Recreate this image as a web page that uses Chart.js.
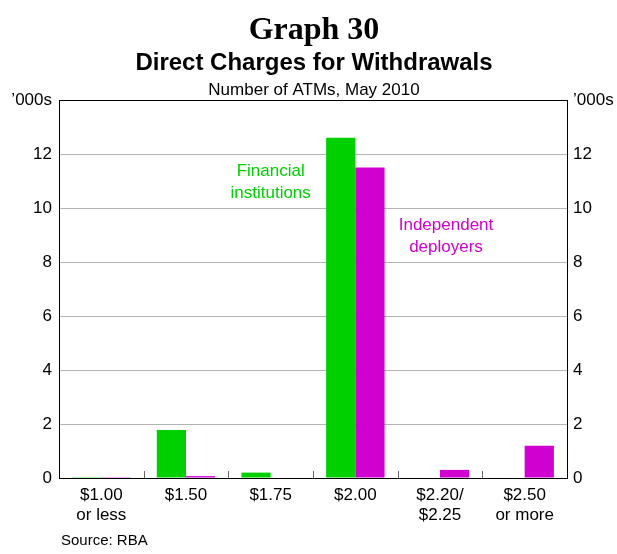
<!DOCTYPE html>
<html>
<head>
<meta charset="utf-8">
<script src="https://cdn.jsdelivr.net/npm/chart.js@4"></script>
<style>
  body { margin: 0; background: #fff; }
  canvas { display: block; }
</style>
</head>
<body>
<canvas id="graph" width="617" height="554"></canvas>
<script>
// Данные графика
const categories = [['$1.00', 'or less'], '$1.50', '$1.75', '$2.00', ['$2.20/', '$2.25'], ['$2.50', 'or more']];
const financialInstitutions = [0.03, 1.78, 0.2, 12.6, 0, 0];
const independentDeployers = [0.03, 0.07, 0, 11.5, 0.3, 1.19];
const yTicks = [0, 2, 4, 6, 8, 10, 12, 14];

const green = '#00d000';
const magenta = '#d000d0';
const font = "'Liberation Sans', Arial, sans-serif";

// Заголовки, подписи серий и засечки на оси X
const decorations = {
    id: 'decorations',
    afterDraw(chart) {
        const c = chart.ctx;
        const x = chart.scales.x;
        const y = chart.scales.y;
        const area = chart.chartArea;
        c.save();
        c.textAlign = 'center';
        c.textBaseline = 'alphabetic';
        c.fillStyle = '#000';
        c.font = "bold 32px 'Liberation Serif', 'Times New Roman', serif";
        c.fillText('Graph 30', 314, 39);
        c.font = 'bold 24px ' + font;
        c.fillText('Direct Charges for Withdrawals', 314, 70);
        c.font = '17px ' + font;
        c.fillText('Number of ATMs, May 2010', 314, 95);

        c.textBaseline = 'middle';
        c.fillStyle = green;
        const fx = x.getPixelForValue(2);
        c.fillText('Financial', fx, y.getPixelForValue(11.37));
        c.fillText('institutions', fx, y.getPixelForValue(10.56));
        c.fillStyle = magenta;
        const ix = x.getPixelForValue(4) + 6;
        c.fillText('Independent', ix, y.getPixelForValue(9.37));
        c.fillText('deployers', ix, y.getPixelForValue(8.56));

        c.textAlign = 'left';
        c.fillStyle = '#000';
        c.font = '15px ' + font;
        c.fillText('Source: RBA', 61, 541);

        c.strokeStyle = '#666';
        c.lineWidth = 1;
        for (let i = 1; i < categories.length; i++) {
            const px = Math.round((x.getPixelForValue(i - 1) + x.getPixelForValue(i)) / 2) + 0.5;
            c.beginPath();
            c.moveTo(px, area.bottom);
            c.lineTo(px, area.bottom - 7);
            c.stroke();
        }
        c.restore();
    }
};

const ctx = document.getElementById('graph').getContext('2d');

new Chart(ctx, {
    type: 'bar',
    data: {
        labels: categories,
        datasets: [{
            label: 'Financial institutions',
            data: financialInstitutions,
            backgroundColor: green,
            borderWidth: 0
        }, {
            label: 'Independent deployers',
            data: independentDeployers,
            backgroundColor: magenta,
            borderWidth: 0
        }]
    },
    options: {
        responsive: false,
        animation: false,
        categoryPercentage: 0.69,
        barPercentage: 1.0,
        layout: {
            padding: { top: 100, left: 0, right: 0, bottom: 0 }
        },
        plugins: {
            legend: { display: false },
            title: { display: false },
            tooltip: { enabled: false }
        },
        scales: {
            x: {
                grid: { display: false, drawTicks: false },
                border: { display: true, color: '#000', width: 1 },
                ticks: {
                    color: '#000',
                    font: { family: font, size: 17 },
                    padding: 7,
                    maxRotation: 0,
                    autoSkip: false
                },
                afterFit(scale) { scale.height = 76; }
            },
            y: {
                position: 'left',
                min: 0,
                max: 14,
                afterBuildTicks(scale) { scale.ticks = yTicks.map(v => ({ value: v })); },
                ticks: {
                    color: '#000',
                    font: { family: font, size: 17 },
                    padding: 7,
                    callback: v => v === 14 ? '\u2019000s' : v
                },
                grid: {
                    drawTicks: false,
                    color: c => (c.tick && (c.tick.value === 14 || c.tick.value === 0)) ? '#000' : '#b4b4b4'
                },
                border: { display: true, color: '#000' },
                afterFit(scale) { scale.width = 59; }
            },
            y2: {
                position: 'right',
                min: 0,
                max: 14,
                afterBuildTicks(scale) { scale.ticks = yTicks.map(v => ({ value: v })); },
                ticks: {
                    color: '#000',
                    font: { family: font, size: 17 },
                    padding: 6,
                    callback: v => v === 14 ? '\u2019000s' : v
                },
                grid: { drawOnChartArea: false, drawTicks: false },
                border: { display: true, color: '#000' },
                afterFit(scale) { scale.width = 50; }
            }
        }
    },
    plugins: [decorations]
});
</script>
</body>
</html>
